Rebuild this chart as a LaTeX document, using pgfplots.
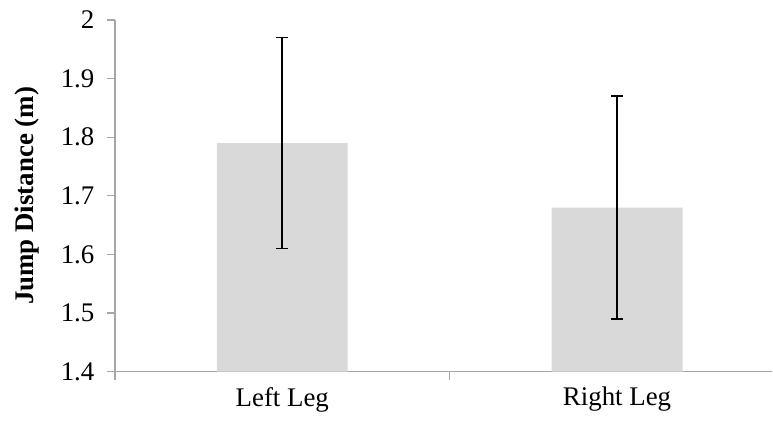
\documentclass[border=0pt]{standalone}
\usepackage{pgfplots}
\pgfplotsset{compat=1.18}
\usepackage{fontspec}
\setmainfont{Liberation Serif}
\usetikzlibrary{calc}
\definecolor{barc}{HTML}{D9D9D9}
\definecolor{axc}{HTML}{A6A6A6}
\begin{document}
\begin{tikzpicture}
\begin{axis}[
  name=ax,
  scale only axis,
  width=658bp, height=352bp,
  xmin=-0.5, xmax=1.464,
  ymin=1.4, ymax=2,
  ytick={1.4,1.5,1.6,1.7,1.8,1.9,2},
  yticklabels={1.4,1.5,1.6,1.7,1.8,1.9,2},
  xtick={-0.5,0.5,1.5},
  xticklabels={},
  extra x ticks={0,1},
  extra x tick labels={Left Leg,Right Leg},
  extra x tick style={major tick length=0pt, tick label style={yshift=-12bp}},
  axis x line=bottom, axis y line=left,
  axis line style={axc, line width=1.2bp, -},
  tick style={axc, line width=1.2bp},
  tick align=outside,
  major tick length=8bp,
  x tick label style={font=\fontsize{27}{30}\selectfont},
  yticklabel style={font=\fontsize{27}{30}\selectfont},
  yticklabel shift=9bp,
  /pgf/number format/assume math mode=true,
  ylabel={\textbf{Jump Distance (m)}},
  ylabel style={font=\fontsize{27}{30}\selectfont, at={(axis description cs:0,0.5)}, anchor=center, yshift=88bp},
  clip=false,
]
\addplot[ybar, bar width=131bp, fill=barc, draw=none,
  error bars/.cd, y dir=both, y explicit,
  error bar style={black, line width=1.8bp},
  error mark options={black, line width=1.8bp, mark size=6bp, rotate=90}]
  coordinates {(0,1.79) +- (0,0.18) (1,1.68) +- (0,0.19)};
\end{axis}
\path[use as bounding box] ($(ax.south west)+(-115bp,-49bp)$) rectangle ($(ax.north east)+(0,20bp)$);
\end{tikzpicture}
\end{document}
